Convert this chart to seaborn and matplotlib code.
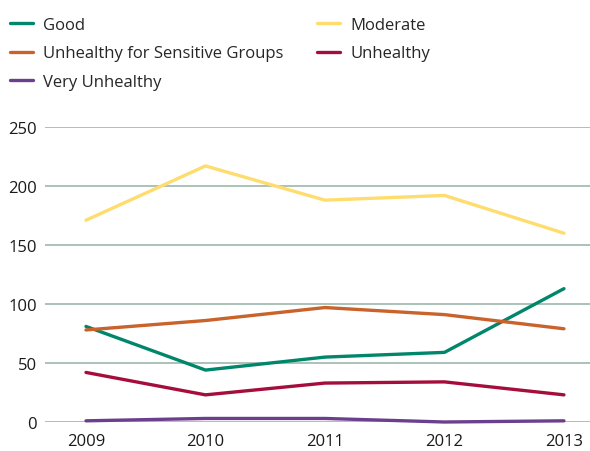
import matplotlib
matplotlib.use("Agg")
from matplotlib import pyplot as plt
import pandas as pd
import seaborn as sns

years = [2009, 2010, 2011, 2012, 2013]
categories = ["Good", "Moderate", "Unhealthy for Sensitive Groups", "Unhealthy", "Very Unhealthy"]
good = [81, 44, 55, 59, 113]
moderate = [171, 217, 188, 192, 160]
usg = [78, 86, 97, 91, 79]
unhealthy = [42, 23, 33, 34, 23]
very_unhealthy = [1, 3, 3, 0, 1]

colors = ["#00866a", "#fedd6e", "#c9622b", "#a50e3c", "#6c3f8e"]

rows = []
for cat, vals in zip(categories, [good, moderate, usg, unhealthy, very_unhealthy]):
    for y, v in zip(years, vals):
        rows.append({"year": y, "days": v, "category": cat})
df = pd.DataFrame(rows)

sns.set_style("white")
plt.rcParams['font.family'] = ['Open Sans', 'DejaVu Sans']

fig = plt.figure(figsize=(5.9, 4.52), dpi=100)
ax = fig.add_axes([45 / 590, 1 - 423 / 452, 1 - 45 / 590, (423 - 128) / 452])

sns.lineplot(data=df, x="year", y="days", hue="category", hue_order=categories,
             palette=colors, linewidth=2.4, ax=ax, legend=True)
for line in ax.get_lines():
    line.set_clip_on(False)

ax.set_xlim(2008.657, 2013.218)
ax.set_ylim(0, 250)
ax.set_yticks([0, 50, 100, 150, 200, 250])
ax.set_xticks(years)
ax.set_xticklabels([str(y) for y in years])
ax.grid(axis="y", color="#9db8ab", linewidth=1.2)
ax.set_axisbelow(True)
ax.tick_params(axis="both", length=0, labelsize=12, labelcolor="#1a1a1a")
ax.tick_params(axis="y", pad=6)
ax.tick_params(axis="x", pad=8)
ax.set_xlabel("")
ax.set_ylabel("")
for sp in ax.spines.values():
    sp.set_visible(False)

handles, labels = ax.get_legend_handles_labels()
ax.get_legend().remove()
order = [0, 2, 4, 1, 3]
fig.legend([handles[i] for i in order], [labels[i] for i in order],
           loc="upper left", bbox_to_anchor=(-5 / 590, 1 - 3 / 452), ncol=2, frameon=False,
           fontsize=12, handlelength=1.4, handletextpad=0.6, columnspacing=2.0,
           labelspacing=0.75)

fig.savefig("out.png", dpi=100)
